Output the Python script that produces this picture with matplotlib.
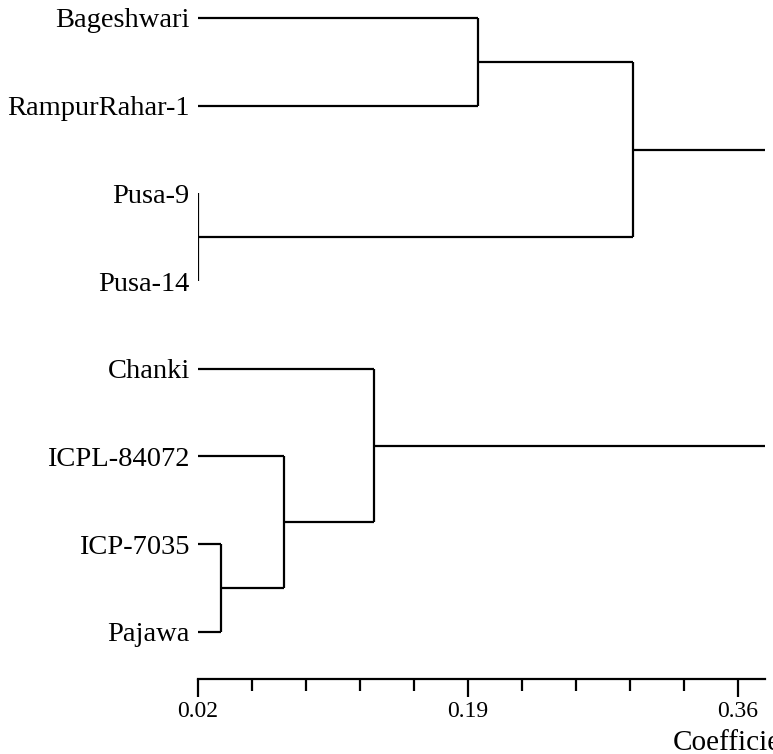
import matplotlib.pyplot as plt
from matplotlib.ticker import MultipleLocator

plt.rcParams['font.family'] = ['Liberation Serif', 'DejaVu Serif']

# leaf order top to bottom
leaves = ['Bageshwari', 'RampurRahar-1', 'Pusa-9', 'Pusa-14',
          'Chanki', 'ICPL-84072', 'ICP-7035', 'Pajawa']

# merges: (left node, right node, coefficient); nodes 0-7 are leaves, new ids from 8
merge_left = [2, 0, 9, 6, 5, 4, 10]
merge_right = [3, 1, 8, 7, 11, 12, 13]
merge_height = [0.02, 0.196, 0.294, 0.0345, 0.0742, 0.131, 0.40]

major_ticks = [0.02, 0.19, 0.36]

fig = plt.figure(figsize=(7.73, 7.54), dpi=100)
W, H = 773, 754
ax = fig.add_axes([198 / W, (H - 679) / H, (765 - 198) / W, 679 / H])

x_lo, x_hi = 0.02, 0.377
ax.set_xlim(x_lo, x_hi)
ax.set_ylim((679 - 18) / 87.7, -18 / 87.7)

# node positions
node_y = list(range(len(leaves)))
node_x = [x_lo] * len(leaves)
for a, b, h in zip(merge_left, merge_right, merge_height):
    ax.plot([node_x[a], h], [node_y[a], node_y[a]], color='black', lw=1.6, solid_capstyle='butt')
    ax.plot([node_x[b], h], [node_y[b], node_y[b]], color='black', lw=1.6, solid_capstyle='butt')
    ax.plot([h, h], [node_y[a], node_y[b]], color='black', lw=1.6, solid_capstyle='butt')
    node_y.append((node_y[a] + node_y[b]) / 2)
    node_x.append(h)

for s in ['top', 'right', 'left']:
    ax.spines[s].set_visible(False)
ax.spines['bottom'].set_linewidth(1.6)

ax.set_yticks(range(len(leaves)))
ax.set_yticklabels(leaves, fontsize=20.5)
ax.tick_params(axis='y', length=0, pad=6)

ax.set_xticks(major_ticks)
ax.set_xticklabels([f'{t:.2f}' for t in major_ticks], fontsize=17)
ax.xaxis.set_minor_locator(MultipleLocator(0.034, offset=0.02))
ax.tick_params(axis='x', which='major', length=13, width=1.6, pad=3)
ax.tick_params(axis='x', which='minor', length=8.5, width=1.6)

fig.text(673 / W, (H - 743) / H, 'Coefficient', fontsize=21, va='center', ha='left')

plt.savefig('out.png', dpi=100)
